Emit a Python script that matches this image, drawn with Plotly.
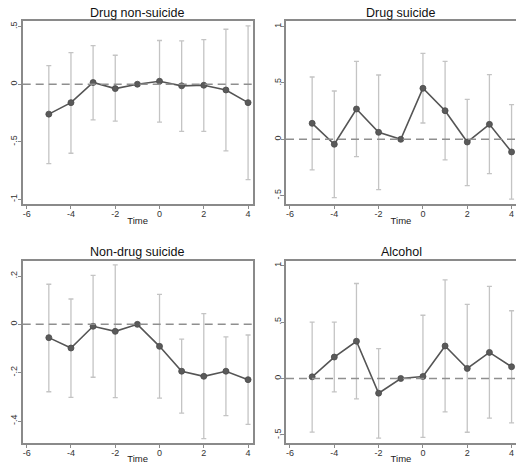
import plotly.graph_objects as go

time = [-5, -4, -3, -2, -1, 0, 1, 2, 3, 4]

titles = ["Drug non-suicide", "Drug suicide", "Non-drug suicide", "Alcohol"]

# Panel 1: Drug non-suicide
p1_est = [-0.26, -0.16, 0.015, -0.038, 0.0, 0.026, -0.014, -0.009, -0.05, -0.16]
p1_hi = [0.162, 0.275, 0.336, 0.252, None, 0.38, 0.377, 0.388, 0.478, 0.507]
p1_lo = [-0.69, -0.60, -0.31, -0.32, None, -0.33, -0.41, -0.41, -0.58, -0.83]

# Panel 2: Drug suicide
p2_est = [0.142, -0.044, 0.269, 0.062, 0.0, 0.453, 0.254, -0.024, 0.133, -0.112]
p2_hi = [0.553, 0.429, 0.692, 0.571, None, 0.763, 0.692, 0.355, 0.574, 0.308]
p2_lo = [-0.272, -0.518, -0.154, -0.447, None, 0.145, -0.183, -0.411, -0.305, -0.53]

# Panel 3: Non-drug suicide
p3_est = [-0.055, -0.098, -0.008, -0.029, 0.0, -0.091, -0.194, -0.215, -0.194, -0.229]
p3_hi = [0.166, 0.105, 0.203, 0.246, None, 0.124, -0.061, 0.044, -0.052, -0.044]
p3_lo = [-0.279, -0.302, -0.219, -0.303, None, -0.305, -0.367, -0.473, -0.378, -0.414]

# Panel 4: Alcohol
p4_est = [0.015, 0.19, 0.33, -0.13, 0.0, 0.018, 0.288, 0.089, 0.231, 0.104]
p4_hi = [0.499, 0.499, 0.841, 0.265, None, 0.56, 0.873, 0.657, 0.816, 0.6]
p4_lo = [-0.475, -0.118, -0.18, -0.528, None, -0.522, -0.295, -0.476, -0.351, -0.393]

x_ticks = [-6, -4, -2, 0, 2, 4]
x_ticktext = ["-6", "-4", "-2", "0", "2", "4"]

y_ticks = [
    ([-1, -0.5, 0, 0.5], ["-1", "-.5", "0", ".5"]),
    ([-0.5, 0, 0.5, 1], ["-.5", "0", ".5", "1"]),
    ([-0.4, -0.2, 0, 0.2], ["-.4", "-.2", "0", ".2"]),
    ([-0.5, 0, 0.5, 1], ["-.5", "0", ".5", "1"]),
]

panels = [(p1_est, p1_hi, p1_lo), (p2_est, p2_hi, p2_lo),
          (p3_est, p3_hi, p3_lo), (p4_est, p4_hi, p4_lo)]

W, H = 516, 464
# plot-area geometry (pixels)
xdoms = [(22.7, 252.5), (286.0, 516.0), (22.7, 252.5), (286.0, 516.0)]
ydoms = [(21, 204), (21, 204), (260.8, 443), (260.8, 443)]
xranges = [[-6.18, 4.2], [-6.18, 4.2], [-6.18, 4.2], [-6.18, 4.2]]
yranges = [[-1.041, 0.5495], [-0.574, 1.05], [-0.491, 0.263], [-0.571, 1.042]]
title_y = [13, 13, 252, 252]

fig = go.Figure()
frame_col = "#8a8a8a"
ci_col = "#c4c4c4"
line_col = "#555555"
FONT = "Liberation Sans, Arial, sans-serif"

for i, (est, hi, lo) in enumerate(panels):
    ax = "" if i == 0 else str(i + 1)
    err_plus = [0 if h is None else h - e for h, e in zip(hi, est)]
    err_minus = [0 if l is None else e - l for l, e in zip(lo, est)]
    fig.add_trace(go.Scatter(
        x=time, y=est, mode="markers",
        marker=dict(size=0.1, color="rgba(0,0,0,0)"),
        error_y=dict(type="data", symmetric=False,
                     array=err_plus, arrayminus=err_minus,
                     color=ci_col, thickness=1.3, width=2.5),
        xaxis="x" + ax, yaxis="y" + ax, showlegend=False, hoverinfo="skip"))
    fig.add_shape(type="line", xref="x" + ax + " domain", yref="y" + ax,
                  x0=0, x1=1, y0=0, y1=0,
                  line=dict(color="#8f8f8f", width=1.5, dash="8px,5px"))
    fig.add_trace(go.Scatter(
        x=time, y=est, mode="lines+markers",
        line=dict(color=line_col, width=1.6),
        marker=dict(size=6, color="#5a5a5a", line=dict(color="#4a4a4a", width=0.8)),
        xaxis="x" + ax, yaxis="y" + ax, showlegend=False))

    xd = [xdoms[i][0] / W, min(1.0, xdoms[i][1] / W)]
    yd = [1 - ydoms[i][1] / H, 1 - ydoms[i][0] / H]
    common = dict(showline=True, mirror=True, linecolor=frame_col, linewidth=1.5,
                  showgrid=False, zeroline=False, ticks="outside", ticklen=3,
                  tickcolor=frame_col, tickwidth=1, automargin=False,
                  tickfont=dict(family=FONT, size=9, color="#333333"))
    fig.layout["xaxis" + ax] = dict(
        domain=xd, range=xranges[i], tickvals=x_ticks, ticktext=x_ticktext,
        anchor="y" + ax, ticklabelstandoff=-3,
        title=dict(text="Time", standoff=0,
                   font=dict(family=FONT, size=9.5, color="#222222")),
        **common)
    fig.layout["yaxis" + ax] = dict(
        domain=yd, range=yranges[i], tickvals=y_ticks[i][0], ticktext=y_ticks[i][1],
        tickangle=-90, anchor="x" + ax, ticklabelstandoff=-3, **common)

    cx = (xdoms[i][0] + min(xdoms[i][1], W)) / 2
    fig.add_annotation(
        text=titles[i], xref="paper", yref="paper",
        x=cx / W, y=1 - title_y[i] / H, xanchor="center", yanchor="middle",
        showarrow=False,
        font=dict(family=FONT, size=12.5, color="#111111"))

fig.update_layout(width=W, height=H, margin=dict(l=0, r=0, t=0, b=0),
                  plot_bgcolor="white", paper_bgcolor="white", template="none")

fig.write_html(
    "out.html",
    config={"displayModeBar": False},
    post_script="document.documentElement.style.margin='0';document.body.style.margin='0';"
                "document.body.style.padding='0';document.body.style.overflow='hidden';",
)
